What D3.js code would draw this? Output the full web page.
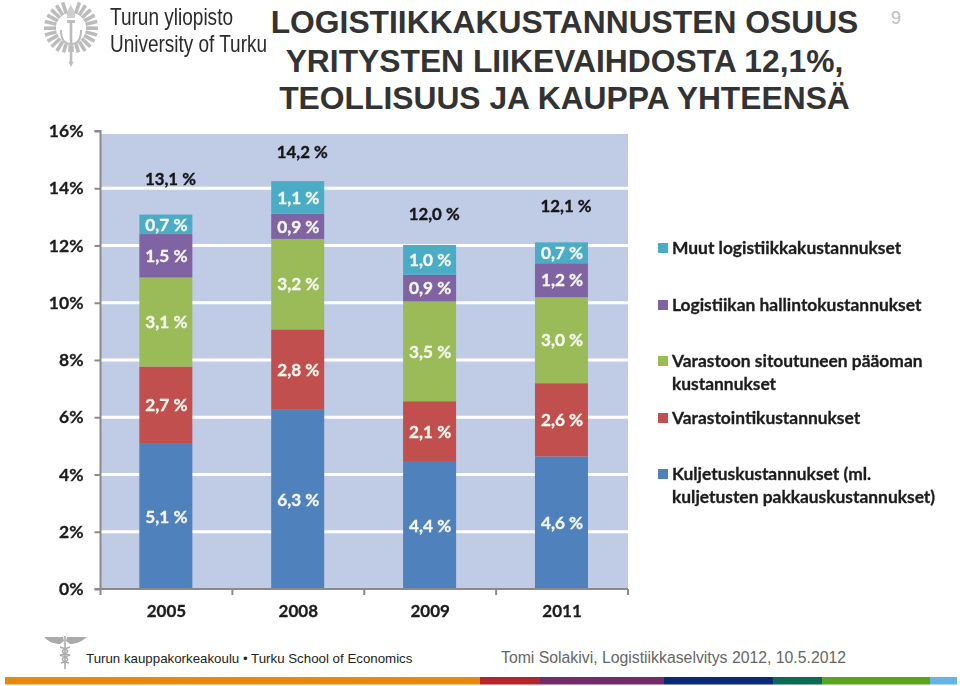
<!DOCTYPE html>
<html><head><meta charset="utf-8">
<script src="https://cdnjs.cloudflare.com/ajax/libs/d3/7.8.5/d3.min.js"></script>
<style>html,body{margin:0;padding:0;background:#fff}svg{display:block}</style>
</head><body><svg id="c" width="960" height="686"></svg>
<script>
const years = ["2005","2008","2009","2011"];
const kuljetus = [5.07,6.26,4.44,4.63];
const varastointi = [2.70,2.81,2.12,2.56];
const paaoma = [3.11,3.16,3.48,3.00];
const hallinto = [1.52,0.88,0.94,1.19];
const muut = [0.68,1.14,1.04,0.73];
const totals = [13.1,14.2,12.0,12.1];
const yTicks = [0,2,4,6,8,10,12,14,16];
const legendLines = [
  ["Muut logistiikkakustannukset"],
  ["Logistiikan hallintokustannukset"],
  ["Varastoon sitoutuneen pääoman","kustannukset"],
  ["Varastointikustannukset"],
  ["Kuljetuskustannukset (ml.","kuljetusten pakkauskustannukset)"]
];
const titleLines = ["LOGISTIIKKAKUSTANNUSTEN OSUUS","YRITYSTEN LIIKEVAIHDOSTA 12,1%,","TEOLLISUUS JA KAUPPA YHTEENSÄ"];
const stackSeries = [kuljetus,varastointi,paaoma,hallinto,muut];
const stackColors = ["#4F81BD","#C0504D","#9BBB59","#8064A2","#4BACC6"];
const legendColors = ["#4BACC6","#8064A2","#9BBB59","#C0504D","#4F81BD"];
const footerBands = [["#E8890C",5,480],["#B0262C",480,540],["#742B6A",540,664],["#0A2A78",664,773],["#0B6B55",773,822],["#5AA51E",822,930],["#62B5E5",930,957]];

const svg = d3.select("#c");
const defs = svg.append("defs");
defs.append("filter").attr("id","soft").attr("x","-2%").attr("y","-2%").attr("width","104%").attr("height","104%")
  .append("feGaussianBlur").attr("stdDeviation",0.45);

const x = d3.scaleBand().domain(years).range([100.5,628]).paddingInner(0).paddingOuter(0);
const y = d3.scaleLinear().domain([0,16]).range([589,131]);
const fmt = v => v.toFixed(1).replace(".",",")+" %";
const cal = "Lato, Carlito, 'Open Sans', sans-serif";
const barW = 53;

const chart = svg.append("g").attr("filter","url(#soft)");
chart.append("rect").attr("x",x.range()[0]).attr("y",134).attr("width",x.range()[1]-x.range()[0]).attr("height",y(0)-134).attr("fill","#C0CBE6");
chart.append("g").selectAll("line").data(yTicks.filter(d=>d>0&&d<16)).join("line")
  .attr("x1",x.range()[0]).attr("x2",x.range()[1]).attr("y1",d=>y(d)).attr("y2",d=>y(d))
  .attr("stroke","#fff").attr("stroke-width",3);

// stacked bars
const rows = years.map((yr,i)=>{const r={year:yr};stackSeries.forEach((s,k)=>r["s"+k]=s[i]);return r;});
const stack = d3.stack().keys(stackSeries.map((s,k)=>"s"+k))(rows);
const groups = chart.append("g").selectAll("g").data(stack).join("g").attr("fill",(d,i)=>stackColors[i]);
groups.selectAll("rect").data(d=>d).join("rect")
  .attr("x",d=>x(d.data.year)+x.bandwidth()/2-barW/2-0.6)
  .attr("width",barW)
  .attr("y",d=>y(d[1])).attr("height",d=>y(d[0])-y(d[1]));
groups.selectAll("text").data(d=>d).join("text")
  .attr("x",d=>x(d.data.year)+x.bandwidth()/2)
  .attr("y",d=>(y(d[0])+y(d[1]))/2).attr("dy","0.36em")
  .attr("text-anchor","middle").attr("fill","#F4F6EE").attr("stroke","#F4F6EE").attr("stroke-width",0.35)
  .attr("font-family",cal).attr("font-weight",700).attr("font-size",17.2)
  .text(d=>fmt(d[1]-d[0]));

// total labels
const totalGap = [36,29,31,36];
const totalShift = 4;
const tops = years.map((yr,i)=>d3.sum(stackSeries,s=>s[i]));
chart.append("g").selectAll("text").data(totals).join("text")
  .attr("x",(d,i)=>x(years[i])+x.bandwidth()/2+totalShift)
  .attr("y",(d,i)=>y(tops[i])-totalGap[i]).attr("dy","0.36em")
  .attr("text-anchor","middle").attr("fill","#141414").attr("stroke","#141414").attr("stroke-width",0.35)
  .attr("font-family",cal).attr("font-weight",700).attr("font-size",16.8)
  .text(fmt);

// axes
const yAxis = d3.axisLeft(y).tickValues(yTicks).tickFormat(d=>d+"%").tickSize(6).tickPadding(11);
const ya = chart.append("g").attr("transform",`translate(${x.range()[0]},0)`).call(yAxis);
const xTickPos = x.domain().map(d=>x(d)).concat(x.range()[1]);
const xa = chart.append("g").attr("transform",`translate(0,${y(0)})`);
xa.append("line").attr("x1",x.range()[0]-6).attr("x2",x.range()[1]).attr("stroke","#8A8A8A").attr("stroke-width",2);
xa.selectAll("line.t").data(xTickPos).join("line").attr("class","t").attr("x1",d=>d).attr("x2",d=>d).attr("y1",0).attr("y2",6).attr("stroke","#8A8A8A").attr("stroke-width",2);
xa.selectAll("text").data(years).join("text").attr("x",d=>x(d)+x.bandwidth()/2).attr("y",22).attr("dy","0.36em")
  .attr("text-anchor","middle").attr("fill","#1c1c1c").attr("stroke","#1c1c1c").attr("stroke-width",0.3).attr("font-family",cal).attr("font-weight",700).attr("font-size",17).text(d=>d);
ya.select(".domain").attr("stroke","#8A8A8A").attr("stroke-width",2).attr("d",`M-6,${y(16)}H0V${y(0)}`);
ya.selectAll(".tick line").attr("stroke","#8A8A8A").attr("stroke-width",2);
ya.selectAll(".tick text").attr("fill","#1c1c1c").attr("stroke","#1c1c1c").attr("stroke-width",0.3).attr("font-family",cal).attr("font-weight",700).attr("font-size",17.5);

// legend
const legendY = [248,305,361,418,474];
const lg = chart.append("g").selectAll("g").data(legendLines).join("g").attr("transform",(d,i)=>`translate(658,${legendY[i]})`);
lg.append("rect").attr("x",0).attr("y",-5).attr("width",10).attr("height",10).attr("fill",(d,i)=>legendColors[i]);
lg.selectAll("text").data(d=>d).join("text").attr("x",14).attr("y",(d,i)=>i*22.7).attr("dy","0.34em")
  .attr("fill","#1c1c1c").attr("stroke","#1c1c1c").attr("stroke-width",0.3).attr("font-family",cal).attr("font-weight",700).attr("font-size",17.4).text(d=>d);

// title
svg.append("g").selectAll("text").data(titleLines).join("text")
  .attr("x",564.5).attr("y",(d,i)=>[33,71.5,109][i]).attr("text-anchor","middle")
  .attr("font-family","'Liberation Sans',Arial,sans-serif").attr("font-weight",700).attr("font-size",31.8).attr("fill","#333").text(d=>d);
svg.append("text").attr("x",896).attr("y",24).attr("text-anchor","middle").attr("font-family","'Liberation Sans',Arial,sans-serif").attr("font-size",18).attr("fill","#bdbdbd").text("9");

// university wordmark
const logo = svg.append("g").attr("filter","url(#soft)");
logo.append("text").attr("x",110).attr("y",25).attr("font-family","'Liberation Sans Narrow','Liberation Sans',sans-serif").attr("font-size",24).attr("fill","#2a2a2a")
  .attr("textLength",123).attr("lengthAdjust","spacingAndGlyphs").text("Turun yliopisto");
logo.append("text").attr("x",110).attr("y",52).attr("font-family","'Liberation Sans Narrow','Liberation Sans',sans-serif").attr("font-size",24).attr("fill","#2a2a2a")
  .attr("textLength",157).attr("lengthAdjust","spacingAndGlyphs").text("University of Turku");

// winged torch emblem
const ecx=71, ecy=28;
[-1,1].forEach(side=>{
  d3.range(12).forEach(k=>{
    const a=(-72+k*14.5)*Math.PI/180;
    const r0=15+(k>8?(k-8)*0.8:0), r1=27-(k>9?(k-9)*1.5:0);
    logo.append("line").attr("x1",ecx+side*Math.cos(a)*r0).attr("y1",ecy+Math.sin(a)*r0)
      .attr("x2",ecx+side*Math.cos(a)*r1).attr("y2",ecy+Math.sin(a)*r1)
      .attr("stroke","#bcbcbc").attr("stroke-width",3.6);
  });
});
logo.append("line").attr("x1",71).attr("x2",71).attr("y1",22).attr("y2",63).attr("stroke","#bcbcbc").attr("stroke-width",2.6);
logo.append("path").attr("d","M68.5,62L71,67L73.5,62Z").attr("fill","#bcbcbc");
logo.append("path").attr("d","M67,20H75V23H67Z").attr("fill","#bcbcbc");
logo.append("path").attr("d","M71,4C69,9 66,11 67,18H75C76,11 72,9 71,4Z").attr("fill","#cdcdcd");
logo.append("path").attr("d","M61,30C61,40 65,44 71,44C77,44 81,40 81,30").attr("fill","none").attr("stroke","#bcbcbc").attr("stroke-width",2);

// caduceus emblem
const ca = svg.append("g").attr("filter","url(#soft)");
ca.append("path").attr("d","M44,637H63L64,641L60,644C54,644 49,642 44,637Z").attr("fill","#aaa");
ca.append("path").attr("d","M87,637H67L66,641L70,644C76,644 81,642 87,637Z").attr("fill","#aaa");
ca.append("line").attr("x1",65).attr("x2",65).attr("y1",636).attr("y2",669).attr("stroke","#aaa").attr("stroke-width",1.6);
ca.append("path").attr("d","M60,647C70,650 70,653 60,655C70,658 70,661 61,663M70,647C60,650 60,653 70,655C60,658 60,661 69,663").attr("fill","none").attr("stroke","#aaa").attr("stroke-width",1.6);

// footer
svg.append("text").attr("x",86).attr("y",663).attr("font-family","'Liberation Sans',Arial,sans-serif").attr("font-size",13.3).attr("fill","#222").text("Turun kauppakorkeakoulu • Turku School of Economics");
svg.append("text").attr("x",501).attr("y",663).attr("font-family","'Liberation Sans',Arial,sans-serif").attr("font-size",15.8).attr("fill","#666").text("Tomi Solakivi, Logistiikkaselvitys 2012, 10.5.2012");
svg.append("g").selectAll("rect").data(footerBands).join("rect")
  .attr("x",d=>d[1]).attr("y",677).attr("width",d=>d[2]-d[1]).attr("height",7.5).attr("fill",d=>d[0]);
</script></body></html>
